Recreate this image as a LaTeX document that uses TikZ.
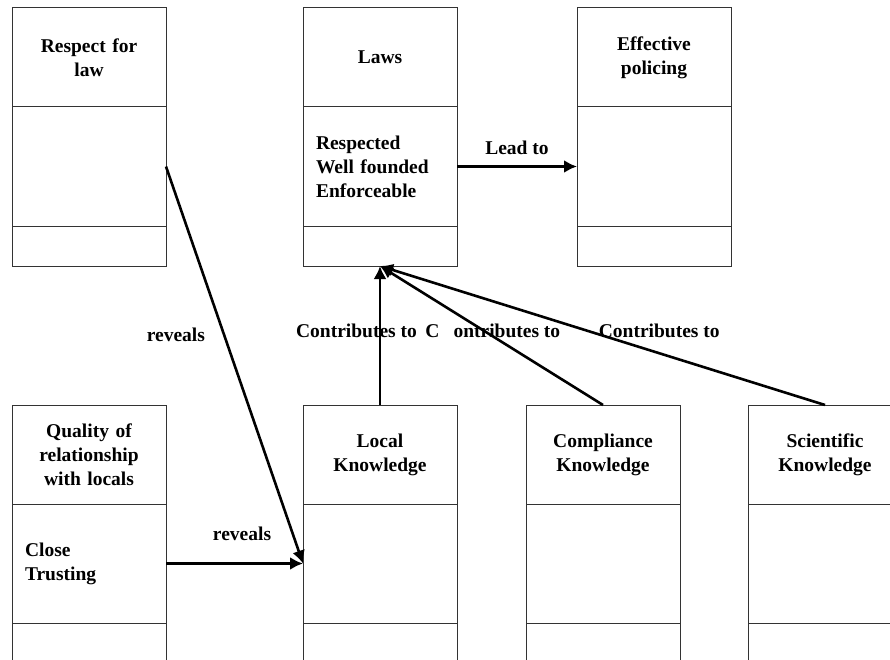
\documentclass[tikz,border=0pt]{standalone}
\usepackage{fontspec}
\setmainfont{Liberation Serif}
\usetikzlibrary{positioning,arrows.meta}
\begin{document}
\begin{tikzpicture}
[x=1pt,y=-1pt,
  font=\fontsize{19.5}{24}\selectfont\bfseries,
  titledecorate/.style={shape=rectangle,draw=black!80,line width=1pt,outer sep=0pt,
    inner xsep=13pt,inner ysep=0pt,text width=128pt,minimum height=99pt,align=center},
  bodydecorate/.style={titledecorate,minimum height=119pt,align=left},
  footdecorate/.style={titledecorate,minimum height=40pt},
  linedecorate/.style={-{Latex[length=13pt,width=13pt]},line width=2.6pt},
  labeldecorate/.style={inner sep=0pt}]
\useasboundingbox (0,0) rectangle (890,660);
\clip (0,0) rectangle (890,660);
%% boxes with three compartments
\foreach \name/\x/\y/\title/\body in {
  respect/12/8/{Respect for\\law}/{},
  laws/303/8/{Laws}/{Respected\\Well founded\\Enforceable},
  policing/577/8/{Effective\\policing}/{},
  quality/12/405/{Quality of\\relationship\\with locals}/{Close\\Trusting},
  local/303/405/{Local\\Knowledge}/{},
  compliance/526/405/{Compliance\\Knowledge}/{},
  scientific/748/405/{Scientific\\Knowledge}/{}} {
  \node (\name) at (\x,\y) [titledecorate,anchor=north west] {\title};
  \node (\name-body) [bodydecorate,below=0pt of \name] {\body};
  \node (\name-foot) [footdecorate,below=0pt of \name-body] {};
}
%% connectors
\path (laws-body) edge[linedecorate] node[labeldecorate,above=11pt] {Lead to} (policing-body);
\path (quality-body) edge[linedecorate] node[labeldecorate,pos=0.555,above=22pt] {reveals} (local-body);
\path (respect-body.east) edge[linedecorate] node[labeldecorate,pos=0.425,left=18pt] {reveals} (local-body.west);
\path
\foreach \startnode/\shift/\label in {local/-23.5/{Contributes to}, compliance/8.5/{C\hspace{14pt}ontributes to}, scientific/71/{Contributes to}} {
  (\startnode.north) edge[linedecorate] node[labeldecorate,pos=0.532,xshift=\shift pt] {\label} (laws-foot.south)
};
\end{tikzpicture}
\end{document}
